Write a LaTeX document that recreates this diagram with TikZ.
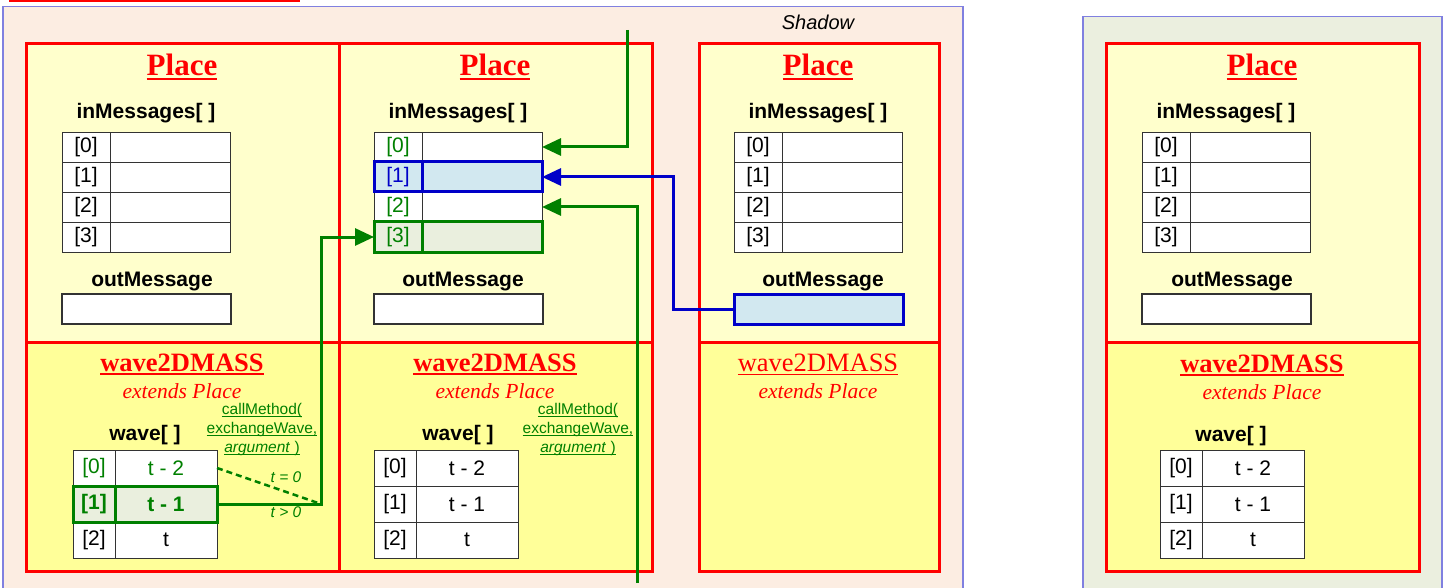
\documentclass[tikz,border=0pt]{standalone}
\usepackage{fontspec}
\setmainfont{Liberation Serif}
\setsansfont{Liberation Sans}
\usetikzlibrary{arrows.meta,positioning,calc}

\definecolor{wred}{RGB}{255,0,0}
\definecolor{wgreen}{RGB}{0,128,0}
\definecolor{wblue}{RGB}{0,0,200}
\definecolor{wviolet}{RGB}{128,128,224}
\definecolor{wpeach}{RGB}{252,237,226}
\definecolor{wsage}{RGB}{235,239,223}
\definecolor{wlight}{RGB}{255,255,204}
\definecolor{wyellow}{RGB}{255,255,153}
\definecolor{wcyan}{RGB}{210,232,240}
\definecolor{wmoss}{RGB}{234,239,222}

% text with a rule under it: depth, thickness, text
\newcommand{\ultext}[3]{\setbox0\hbox{#3}\leavevmode\rlap{\rule[-#1]{\wd0}{#2}}\box0}

\tikzset{
  area/.style={draw=wviolet, line width=1.5pt, anchor=north west, inner sep=0},
  placetop/.style={draw=wred, fill=wlight, line width=3pt, anchor=north west,
                   inner sep=0, minimum height=299},
  wavepart/.style={draw=wred, fill=wyellow, line width=3pt, anchor=north west,
                   inner sep=0, minimum height=229},
  title/.style={text=wred, font=\fontsize{31}{36}\selectfont\bfseries,
                anchor=base, inner sep=0},
  subtitle/.style={text=wred, font=\fontsize{26.5}{30}\selectfont\bfseries,
                   anchor=base, inner sep=0},
  extends/.style={text=wred, font=\fontsize{21.5}{25}\selectfont\itshape,
                  anchor=base, inner sep=0},
  field/.style={font=\fontsize{21}{25}\selectfont\sffamily\bfseries,
                anchor=base, inner sep=0},
  shadowlbl/.style={font=\fontsize{20}{24}\selectfont\sffamily\itshape,
                    anchor=base, inner sep=0},
  cell/.style={draw=black!80, fill=white, line width=0.8pt, anchor=north west,
               inner sep=0, outer sep=0, font=\fontsize{21}{25}\selectfont\sffamily},
  idx/.style={cell, minimum width=48, minimum height=30},
  slot/.style={cell, minimum width=120, minimum height=30},
  widx/.style={cell, minimum width=42, minimum height=36},
  wval/.style={cell, minimum width=102, minimum height=36},
  outbox/.style={cell, minimum width=169, minimum height=30, line width=1.5pt},
  hlblue/.style={draw=wblue, fill=wcyan, text=wblue, line width=3pt},
  hlgreen/.style={draw=wgreen, fill=wmoss, text=wgreen, line width=3pt},
  hlbold/.style={font=\fontsize{21}{25}\selectfont\sffamily\bfseries},
  call/.style={text=wgreen, font=\fontsize{15.5}{19}\selectfont\sffamily,
               align=center, inner sep=0},
  cond/.style={text=wgreen, font=\fontsize{15.5}{18}\selectfont\sffamily\itshape,
               anchor=base, inner sep=0},
  flow/.style={draw=wgreen, line width=3pt, -{Triangle[length=19pt,width=17pt]}},
  back/.style={draw=wblue, line width=3pt, -{Triangle[length=19pt,width=17pt]}},
}

\begin{document}
\begin{tikzpicture}[x=1pt,y=-1pt]
  \useasboundingbox (0,0) rectangle (1448,588);

  % backgrounds
  \node[area, fill=wpeach, minimum width=960, minimum height=600] (shadow) at (2,6) {};
  \node[area, fill=wsage, minimum width=359, minimum height=590] (remote) at (1082,16) {};
  \fill[wred] (9,0) rectangle (300,2.5);
  \node[shadowlbl] (shadowname) at (818,30) {Shadow};

  % place boxes
  \node[placetop, minimum width=313] (placeA) at (25,42) {};
  \node[wavepart, minimum width=313] (waveA) at (25,341) {};
  \node[placetop, minimum width=313] (placeB) at (338,42) {};
  \node[wavepart, minimum width=313] (waveB) at (338,341) {};
  \node[placetop, minimum width=240] (placeC) at (698,42) {};
  \node[wavepart, minimum width=240] (waveC) at (698,341) {};
  \node[placetop, minimum width=313] (placeD) at (1105,42) {};
  \node[wavepart, minimum width=313] (waveD) at (1105,341) {};

  % titles
  \node[title] (titleA) at (182,76) {\ultext{4.5pt}{2.5pt}{Place}};
  \node[title] (titleB) at (495,76) {\ultext{4.5pt}{2.5pt}{Place}};
  \node[title] (titleC) at (818,76) {\ultext{4.5pt}{2.5pt}{Place}};
  \node[title] (titleD) at (1262,76) {\ultext{4.5pt}{2.5pt}{Place}};

  \node[subtitle] (subA) at (182,371) {\ultext{4pt}{2pt}{wave2DMASS}};
  \node[subtitle] (subB) at (495,371) {\ultext{4pt}{2pt}{wave2DMASS}};
  \node[subtitle, font=\fontsize{26.5}{30}\selectfont\mdseries] (subC) at (818,371)
    {\ultext{4pt}{1.5pt}{wave2DMASS}};
  \node[subtitle] (subD) at (1262,372) {\ultext{4pt}{2pt}{wave2DMASS}};

  \node[extends] (extA) at (182,398) {extends Place};
  \node[extends] (extB) at (495,398) {extends Place};
  \node[extends] (extC) at (818,398) {extends Place};
  \node[extends] (extD) at (1262,399) {extends Place};

  % field labels
  \node[field] (inlblA) at (146,119) {inMessages[ ]};
  \node[field] (inlblB) at (458,119) {inMessages[ ]};
  \node[field] (inlblC) at (818,119) {inMessages[ ]};
  \node[field] (inlblD) at (1226,119) {inMessages[ ]};
  \node[field] (outlblA) at (152,286) {outMessage};
  \node[field] (outlblB) at (463,286) {outMessage};
  \node[field] (outlblC) at (823,286) {outMessage};
  \node[field] (outlblD) at (1232,286) {outMessage};
  \node[field] (wavelblA) at (145,440) {wave[ ]};
  \node[field] (wavelblB) at (458,440) {wave[ ]};
  \node[field] (wavelblD) at (1231,441) {wave[ ]};

  % inMessages tables
  \foreach \r in {0,...,3} {
    \node[idx] (inAi-\r) at (62,{132+30*\r}) {[\r]};
    \node[slot, right=0pt of inAi-\r] (inAv-\r) {};
    \node[idx] (inCi-\r) at (734,{132+30*\r}) {[\r]};
    \node[slot, right=0pt of inCi-\r] (inCv-\r) {};
    \node[idx] (inDi-\r) at (1142,{132+30*\r}) {[\r]};
    \node[slot, right=0pt of inDi-\r] (inDv-\r) {};
  }
  \node[idx, text=wgreen] (inBi-0) at (374,132) {[0]};
  \node[slot] (inBv-0) at (422,132) {};
  \node[idx, text=wgreen] (inBi-2) at (374,192) {[2]};
  \node[slot] (inBv-2) at (422,192) {};
  \node[idx, hlblue] (inBi-1) at (374,162) {[1]};
  \node[slot, hlblue] (inBv-1) at (422,162) {};
  \node[idx, hlgreen] (inBi-3) at (374,222) {[3]};
  \node[slot, hlgreen] (inBv-3) at (422,222) {};

  % outMessage boxes
  \node[outbox] (outA) at (62,294) {};
  \node[outbox] (outB) at (374,294) {};
  \node[outbox, hlblue] (outC) at (734,294) {};
  \node[outbox] (outD) at (1142,294) {};

  % wave tables
  \foreach \r/\v in {0/t - 2,1/t - 1,2/t} {
    \node[widx] (waveBi-\r) at (374,{450+36*\r}) {[\r]};
    \node[wval, right=0pt of waveBi-\r] (waveBv-\r) {\v};
    \node[widx] (waveDi-\r) at (1160,{450+36*\r}) {[\r]};
    \node[wval, right=0pt of waveDi-\r] (waveDv-\r) {\v};
  }
  \node[widx, text=wgreen] (waveAi-0) at (73,450) {[0]};
  \node[wval, text=wgreen] (waveAv-0) at (115,450) {t - 2};
  \node[widx] (waveAi-2) at (73,522) {[2]};
  \node[wval] (waveAv-2) at (115,522) {t};
  \node[widx, hlgreen, hlbold] (waveAi-1) at (73,486) {[1]};
  \node[wval, hlgreen, hlbold] (waveAv-1) at (115,486) {t - 1};

  % method calls
  \node[call] (callA) at (262,429)
    {\ultext{3pt}{1pt}{callMethod(}\\ \ultext{3pt}{1pt}{exchangeWave,}\\
     \ultext{3pt}{1pt}{\textit{argument} )}};
  \node[call] (callB) at (578,429)
    {\ultext{3pt}{1pt}{callMethod(}\\ \ultext{3pt}{1pt}{exchangeWave,}\\
     \ultext{3pt}{1pt}{\textit{argument} )}};
  \node[cond] (tzero) at (286,482) {t = 0};
  \node[cond] (tpos) at (286,517) {t > 0};

  % message flow
  \coordinate (feedtop) at (627,30);
  \coordinate (feedbot) at (637,583);
  \draw[flow] (feedtop) |- (inBv-0.east);
  \draw[flow] (feedbot) |- (inBv-2.east);
  \draw[back] (outC.west) -- ++(-61,0) |- (inBv-1.east);
  \draw[flow] (waveAv-1.east) -- ++(104,0) coordinate (turnA) |- (inBi-3.west);
  \draw[wgreen, line width=2.5pt, dash pattern=on 6pt off 4pt] (waveAv-0.east) -- (turnA);
\end{tikzpicture}
\end{document}
